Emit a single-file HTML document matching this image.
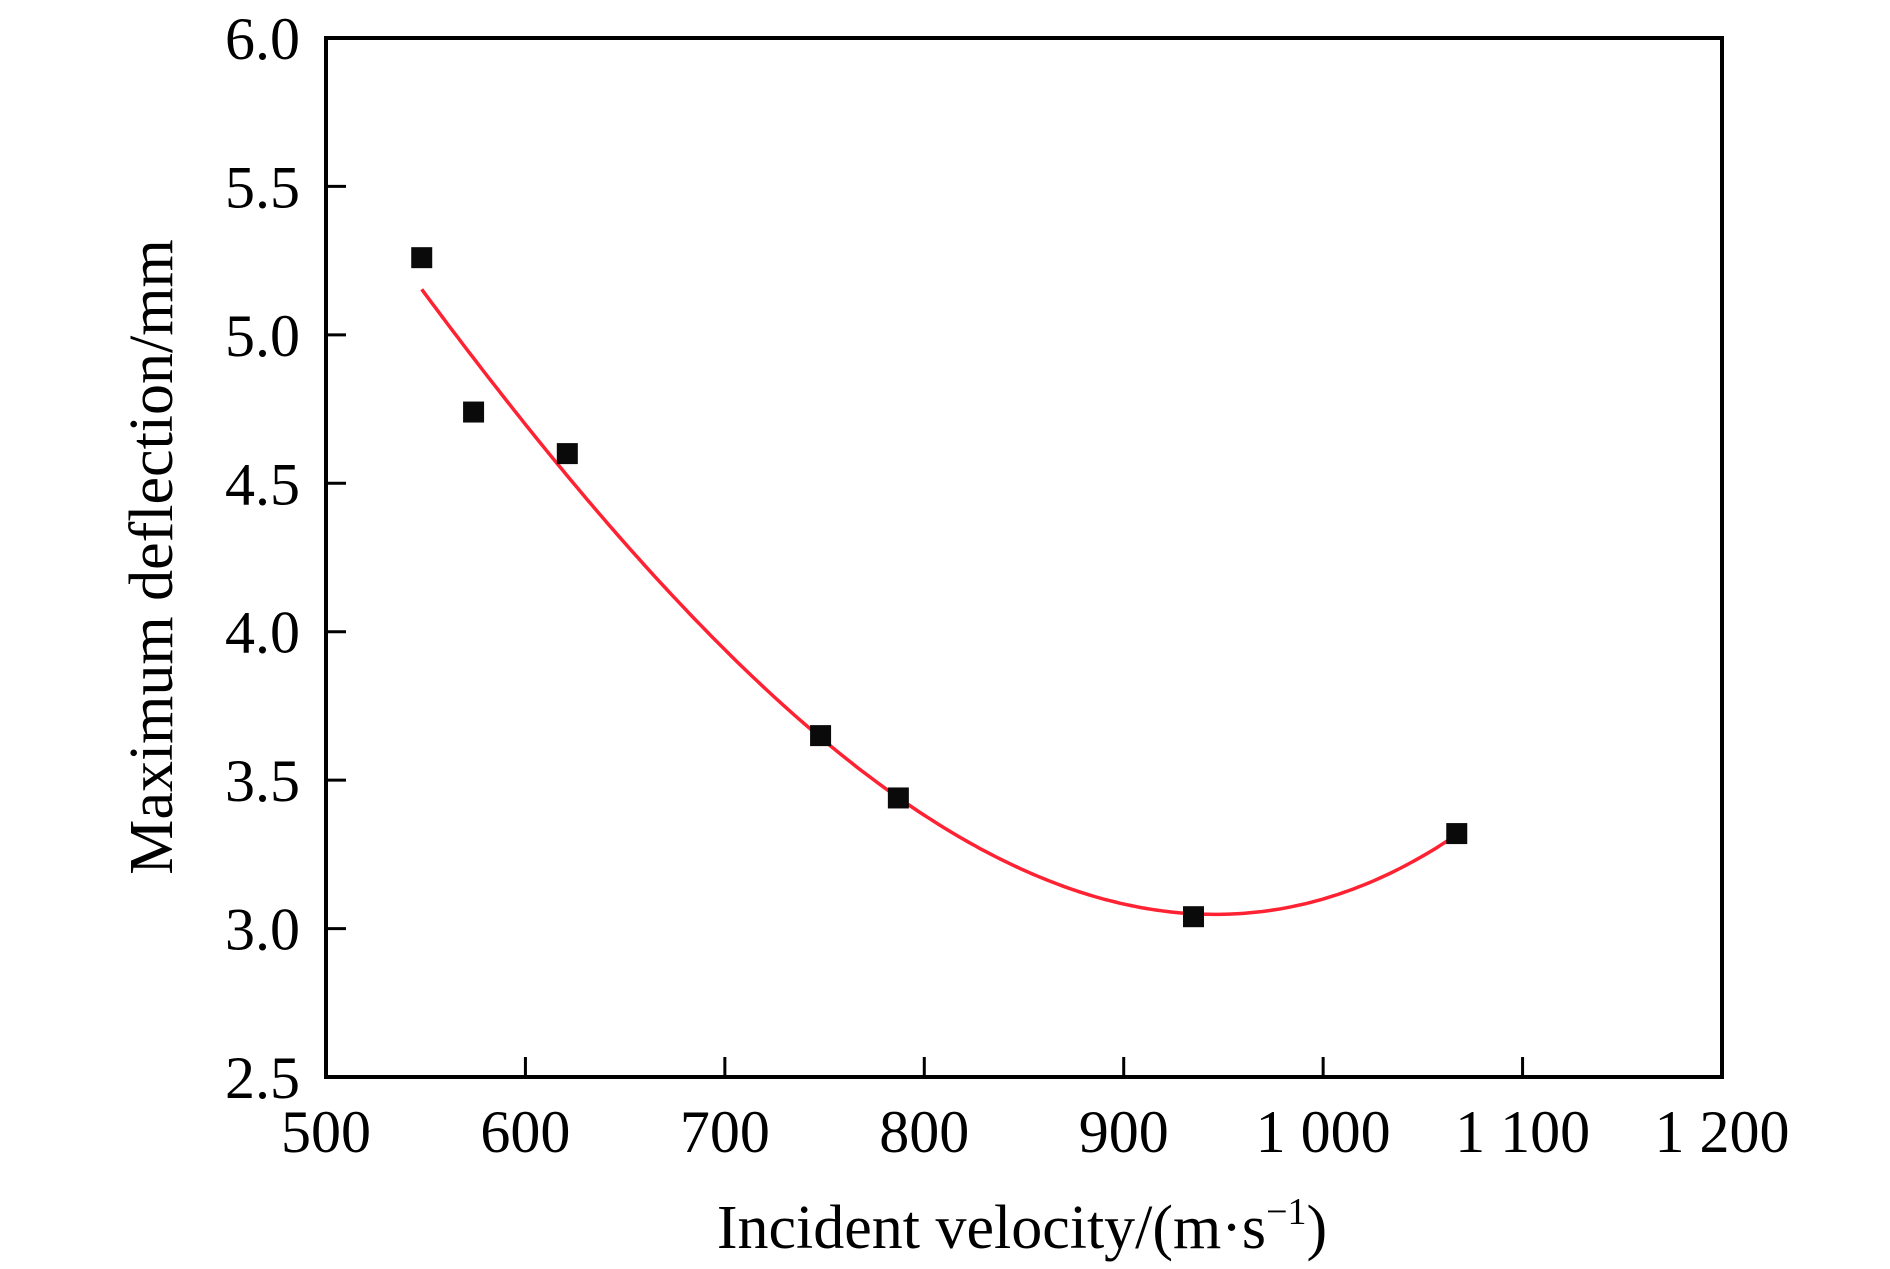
<!DOCTYPE html>
<html><head><meta charset="utf-8"><style>
html,body{margin:0;padding:0;background:#fff;}
svg{display:block;font-family:"Liberation Serif",serif;}
</style></head><body>
<svg id="chart" width="1890" height="1269" viewBox="0 0 1890 1269" xmlns="http://www.w3.org/2000/svg">
<g id="axes"></g><g id="fit"></g><g id="points"></g>
<text x="1022" y="1248" font-size="62" text-anchor="middle">Incident velocity/(m·s<tspan dy="-24" font-size="38">−1</tspan><tspan dy="24">)</tspan></text>
<text transform="translate(172,557) rotate(-90)" font-size="62" text-anchor="middle">Maximum deflection/mm</text>
</svg>
<script>
const velocities = [548, 574, 621, 748, 787, 935, 1067];
const deflections = [5.26, 4.74, 4.60, 3.65, 3.44, 3.04, 3.32];
const xTicks = [500, 600, 700, 800, 900, 1000, 1100, 1200];
const xTickLabels = ["500", "600", "700", "800", "900", "1 000", "1 100", "1 200"];
const yTicks = [2.5, 3.0, 3.5, 4.0, 4.5, 5.0, 5.5, 6.0];
const yTickLabels = ["2.5", "3.0", "3.5", "4.0", "4.5", "5.0", "5.5", "6.0"];

const L=326,R=1722,T=38,B=1077;
const sx=v=>L+(v-500)/700*(R-L);
const sy=v=>B-(v-2.5)/3.5*(B-T);
const NS="http://www.w3.org/2000/svg";
function mk(tag,attrs,parent){const e=document.createElementNS(NS,tag);for(const k in attrs)e.setAttribute(k,attrs[k]);parent.appendChild(e);return e;}
const axes=document.getElementById('axes');
const frame=mk('rect',{x:L,y:T,width:R-L,height:B-T,fill:'none',stroke:'#000','stroke-width':4},axes);


xTicks.forEach((v,i)=>{
  if(i>0&&i<xTicks.length-1){const t=mk('line',{x1:sx(v),x2:sx(v),y1:B,y2:B-20,stroke:'#000','stroke-width':3},axes);
  
  }
  const lb=mk('text',{x:sx(v),y:1152,'font-size':60,'text-anchor':'middle'},axes);
  lb.textContent=xTickLabels[i];
  
  
});
yTicks.forEach((v,i)=>{
  if(i>0&&i<yTicks.length-1){const t=mk('line',{x1:L,x2:L+20,y1:sy(v),y2:sy(v),stroke:'#000','stroke-width':3},axes);
  
  }
  const lb=mk('text',{x:300,y:sy(v)+21,'font-size':60,'text-anchor':'end'},axes);
  lb.textContent=yTickLabels[i];
  
  
});
// cubic least-squares fit
const n=4,A=[],b=[];
const u=x=>(x-800)/300;
for(let i=0;i<n;i++){A.push(new Array(n).fill(0));b.push(0);}
velocities.forEach((x,k)=>{for(let i=0;i<n;i++){b[i]+=Math.pow(u(x),i)*deflections[k];for(let j=0;j<n;j++)A[i][j]+=Math.pow(u(x),i+j);}});
for(let i=0;i<n;i++){for(let r=i+1;r<n;r++){const f=A[r][i]/A[i][i];for(let c=i;c<n;c++)A[r][c]-=f*A[i][c];b[r]-=f*b[i];}}
const c=new Array(n).fill(0);
for(let i=n-1;i>=0;i--){let s=b[i];for(let j=i+1;j<n;j++)s-=A[i][j]*c[j];c[i]=s/A[i][i];}
const poly=x=>c.reduce((s,ci,i)=>s+ci*Math.pow(u(x),i),0);
let d="";const x0=velocities[0],x1=velocities[velocities.length-1];
for(let k=0;k<=200;k++){const x=x0+(x1-x0)*k/200;d+=(k?"L":"M")+sx(x).toFixed(1)+","+sy(poly(x)).toFixed(1);}
const fl=mk('path',{d:d,fill:'none',stroke:'#ff2233','stroke-width':3.5},document.getElementById('fit'));


const pts=document.getElementById('points');
velocities.forEach((x,i)=>{
  const r=mk('rect',{x:sx(x)-10.5,y:sy(deflections[i])-10.5,width:21,height:21,fill:'#0a0a0a'},pts);
  
  
});
</script>
</body></html>
